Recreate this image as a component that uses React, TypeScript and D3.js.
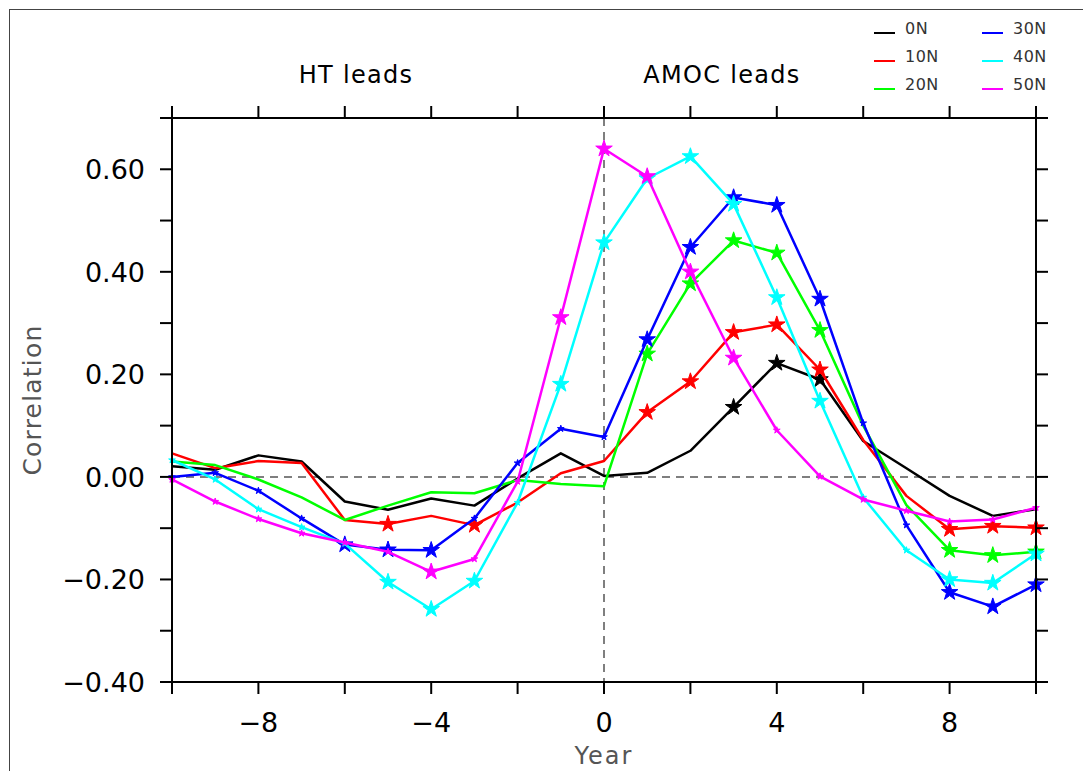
import React from "react";
import * as d3 from "d3";

const years = d3.range(-10, 11);
const seriesNames = ["0N", "10N", "20N", "30N", "40N", "50N"];
const seriesColors = ["#000000", "#ff0000", "#00ff00", "#0000ff", "#00ffff", "#ff00ff"];

const v0N = [0.021, 0.014, 0.042, 0.030, -0.048, -0.064, -0.042, -0.056, -0.003, 0.046, 0.002, 0.008, 0.051, 0.136, 0.222, 0.190, 0.070, 0.017, -0.037, -0.076, -0.063];
const v10N = [0.046, 0.017, 0.031, 0.027, -0.084, -0.092, -0.076, -0.094, -0.050, 0.007, 0.031, 0.126, 0.186, 0.282, 0.297, 0.209, 0.072, -0.037, -0.102, -0.096, -0.099];
const v20N = [0.030, 0.023, -0.005, -0.040, -0.084, -0.056, -0.030, -0.032, -0.006, -0.014, -0.018, 0.240, 0.377, 0.461, 0.437, 0.286, 0.100, -0.055, -0.143, -0.153, -0.146];
const v30N = [0.000, 0.008, -0.027, -0.081, -0.132, -0.142, -0.143, -0.081, 0.027, 0.094, 0.078, 0.268, 0.448, 0.545, 0.530, 0.347, 0.105, -0.094, -0.225, -0.253, -0.210];
const v40N = [0.033, -0.005, -0.063, -0.098, -0.130, -0.205, -0.258, -0.203, -0.050, 0.181, 0.457, 0.582, 0.625, 0.532, 0.350, 0.148, -0.040, -0.143, -0.200, -0.207, -0.150];
const v50N = [-0.005, -0.048, -0.082, -0.110, -0.128, -0.146, -0.185, -0.160, -0.009, 0.311, 0.640, 0.586, 0.400, 0.232, 0.091, 0.001, -0.044, -0.066, -0.087, -0.083, -0.060];

// years flagged with large star markers (significant)
const sig0N = [3, 4, 5];
const sig10N = [-5, -3, 1, 2, 3, 4, 5, 8, 9, 10];
const sig20N = [1, 2, 3, 4, 5, 8, 9, 10];
const sig30N = [-6, -5, -4, 1, 2, 3, 4, 5, 8, 9, 10];
const sig40N = [-5, -4, -3, -1, 0, 1, 2, 3, 4, 5, 8, 9, 10];
const sig50N = [-4, -1, 0, 1, 2, 3];
// whether non-significant points show a small marker
const smallMarks = [false, false, false, true, true, true];

const seriesValues = [v0N, v10N, v20N, v30N, v40N, v50N];
const seriesSig = [sig0N, sig10N, sig20N, sig30N, sig40N, sig50N];

const xTicks = d3.range(-10, 11, 2);
const xLabels = [-8, -4, 0, 4, 8];
const yTicks = d3.range(-0.4, 0.7001, 0.1);
const yLabels = [-0.4, -0.2, 0, 0.2, 0.4, 0.6];

const W = 1083, H = 771;
const left = 172, right = 1036, top = 118, bottom = 682;
const FONT = "'DejaVu Sans', sans-serif";

export default function App() {
  const x = d3.scaleLinear().domain([-10, 10]).range([left, right]);
  const y = d3.scaleLinear().domain([-0.4, 0.7]).range([bottom, top]);
  const line = d3.line<number>().x((_, i) => x(years[i])).y((d) => y(d));
  const bigStar = d3.symbol().type(d3.symbolStar).size(85)();
  const smallStar = d3.symbol().type(d3.symbolStar).size(14)();
  const fmt = (v: number) => {
    const s = Math.abs(v).toFixed(2);
    return (v < -1e-9 ? "\u2212" : "") + s;
  };
  const fmtX = (v: number) => (v < 0 ? "\u2212" + Math.abs(v) : String(v));
  const tick = 12;

  const legendCols = [874, 982];
  const legendRows = [33, 61, 89];

  return (
    <svg width={W} height={H} style={{ position: "absolute", left: 0, top: 0, background: "#fff" }} fontFamily={FONT}>
      <rect x={0} y={0} width={W} height={H} fill="#fff" />
      <rect x={9.5} y={9.5} width={W + 20} height={H + 20} fill="none" stroke="#444" strokeWidth={1} />

      {/* titles */}
      <text x={356} y={83} textAnchor="middle" fontSize={24} letterSpacing={1.3} fill="#000">HT leads</text>
      <text x={722} y={83} textAnchor="middle" fontSize={24} letterSpacing={1.3} fill="#000">AMOC leads</text>

      {/* legend */}
      {seriesNames.map((n, i) => {
        const cx = legendCols[Math.floor(i / 3)];
        const cy = legendRows[i % 3];
        return (
          <g key={n}>
            <line x1={cx} x2={cx + 21} y1={cy} y2={cy} stroke={seriesColors[i]} strokeWidth={2} />
            <text x={cx + 31} y={cy + 1} fontSize={16} letterSpacing={0.5} fill="#333">{n}</text>
          </g>
        );
      })}

      {/* reference dashed lines */}
      <line x1={left} x2={right} y1={y(0)} y2={y(0)} stroke="#555" strokeWidth={1.5} strokeDasharray="8,6" />
      <line x1={x(0)} x2={x(0)} y1={top} y2={bottom} stroke="#555" strokeWidth={1.5} strokeDasharray="8,6" />

      {/* series */}
      {seriesValues.map((vals, si) => (
        <g key={si}>
          <path d={line(vals) || ""} fill="none" stroke={seriesColors[si]} strokeWidth={2.5} strokeLinejoin="round" />
          {vals.map((v, i) => {
            const big = seriesSig[si].includes(years[i]);
            if (!big && !smallMarks[si]) return null;
            return (
              <path key={i} d={(big ? bigStar : smallStar) || ""} transform={`translate(${x(years[i])},${y(v)})`} fill={seriesColors[si]} stroke={seriesColors[si]} strokeWidth={1} />
            );
          })}
        </g>
      ))}

      {/* frame */}
      <rect x={left} y={top} width={right - left} height={bottom - top} fill="none" stroke="#000" strokeWidth={2} />

      {/* x ticks */}
      {xTicks.map((t) => (
        <g key={"xt" + t}>
          <line x1={x(t)} x2={x(t)} y1={bottom} y2={bottom + tick} stroke="#000" strokeWidth={2} />
          <line x1={x(t)} x2={x(t)} y1={top} y2={top - tick} stroke="#000" strokeWidth={2} />
        </g>
      ))}
      {xLabels.map((t) => (
        <text key={"xl" + t} x={x(t)} y={732} textAnchor="middle" fontSize={27} fill="#000">{fmtX(t)}</text>
      ))}

      {/* y ticks */}
      {yTicks.map((t, i) => (
        <g key={"yt" + i}>
          <line x1={left} x2={left - tick} y1={y(t)} y2={y(t)} stroke="#000" strokeWidth={2} />
          <line x1={right} x2={right + tick} y1={y(t)} y2={y(t)} stroke="#000" strokeWidth={2} />
        </g>
      ))}
      {yLabels.map((t) => (
        <text key={"yl" + t} x={145} y={y(t) + 10} textAnchor="end" fontSize={27} fill="#000">{fmt(t)}</text>
      ))}

      {/* axis titles */}
      <text x={604} y={764} textAnchor="middle" fontSize={24} letterSpacing={2} fill="#555">Year</text>
      <text transform={`translate(41,${(top + bottom) / 2}) rotate(-90)`} textAnchor="middle" fontSize={25} letterSpacing={1.2} fill="#555">Correlation</text>
    </svg>
  );
}
